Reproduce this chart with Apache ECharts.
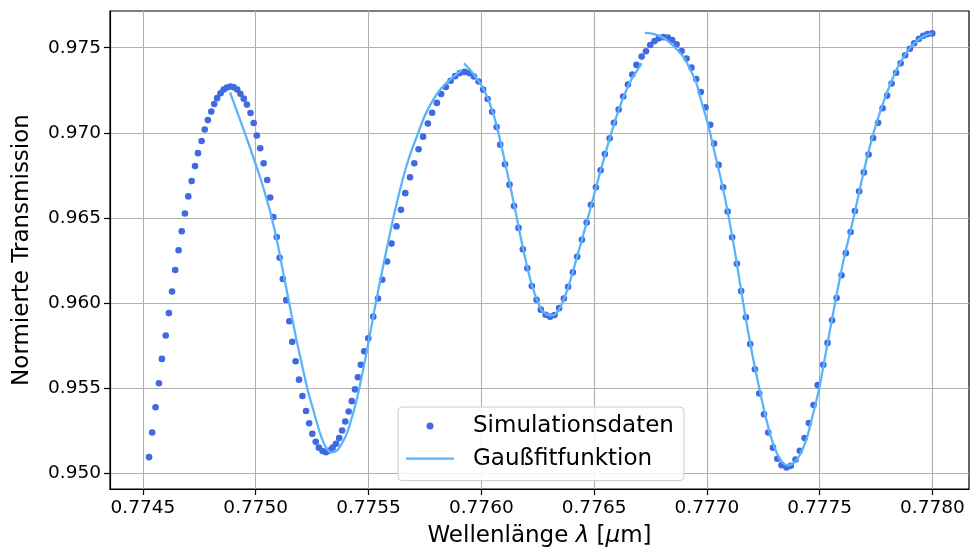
<!DOCTYPE html>
<html><head><meta charset="utf-8">
<script src="https://cdn.jsdelivr.net/npm/echarts@6/dist/echarts.min.js"></script>
<style>html,body{margin:0;padding:0;background:#fff}#c{width:970px;height:553px}</style>
</head><body><div id="c"></div>
<script>
// Simulationsdaten (Wellenlänge in µm, normierte Transmission)
const simX = [
0.774527,0.774541,0.774556,0.774571,0.774584,0.774601,0.774615,0.774629,0.774643,0.774658,
0.774672,0.774686,0.774701,0.774716,0.774731,0.774744,0.774760,0.774774,0.774788,0.774803,
0.774816,0.774829,0.774844,0.774858,0.774872,0.774888,0.774903,0.774918,0.774932,0.774947,
0.774961,0.774977,0.774991,0.775005,0.775020,0.775035,0.775051,0.775064,0.775078,0.775093,
0.775106,0.775120,0.775135,0.775149,0.775162,0.775177,0.775192,0.775207,0.775223,0.775237,
0.775251,0.775266,0.775280,0.775296,0.775311,0.775326,0.775341,0.775356,0.775370,0.775383,
0.775397,0.775412,0.775426,0.775440,0.775453,0.775466,0.775481,0.775499,0.775521,0.775542,
0.775561,0.775582,0.775602,0.775624,0.775644,0.775663,0.775684,0.775703,0.775722,0.775742,
0.775763,0.775782,0.775803,0.775822,0.775843,0.775864,0.775884,0.775905,0.775926,0.775946,
0.775967,0.775988,0.776008,0.776028,0.776048,0.776068,0.776084,0.776105,0.776125,0.776145,
0.776165,0.776184,0.776204,0.776224,0.776245,0.776264,0.776285,0.776305,0.776325,0.776345,
0.776366,0.776385,0.776406,0.776425,0.776446,0.776467,0.776486,0.776508,0.776529,0.776548,
0.776569,0.776588,0.776609,0.776629,0.776650,0.776669,0.776688,0.776711,0.776730,0.776749,
0.776768,0.776787,0.776807,0.776827,0.776846,0.776866,0.776888,0.776910,0.776932,0.776953,
0.776973,0.776994,0.777015,0.777032,0.777052,0.777072,0.777092,0.777112,0.777133,0.777152,
0.777173,0.777192,0.777213,0.777232,0.777253,0.777272,0.777293,0.777312,0.777331,0.777353,
0.777372,0.777393,0.777412,0.777433,0.777452,0.777473,0.777491,0.777516,0.777535,0.777555,
0.777575,0.777597,0.777616,0.777637,0.777656,0.777675,0.777696,0.777717,0.777737,0.777759,
0.777779,0.777799,0.777819,0.777839,0.777859,0.777879,0.777900,0.777919,0.777940,0.777959,
0.777978,0.777999
];
const simY = [
0.95096,0.95241,0.95389,0.95530,0.95673,0.95810,0.95942,0.96069,0.96195,0.96311,
0.96422,0.96527,0.96627,0.96717,0.96805,0.96881,0.96952,0.97020,0.97075,0.97125,
0.97170,0.97204,0.97233,0.97254,0.97266,0.97272,0.97268,0.97255,0.97230,0.97201,
0.97166,0.97117,0.97058,0.96985,0.96910,0.96821,0.96723,0.96621,0.96506,0.96389,
0.96267,0.96142,0.96019,0.95894,0.95773,0.95659,0.95551,0.95455,0.95367,0.95295,
0.95233,0.95186,0.95152,0.95132,0.95125,0.95135,0.95152,0.95175,0.95208,0.95253,
0.95305,0.95364,0.95425,0.95494,0.95565,0.95639,0.95718,0.95794,0.95921,0.96028,
0.96138,0.96245,0.96350,0.96451,0.96548,0.96646,0.96739,0.96822,0.96904,0.96978,
0.97055,0.97118,0.97176,0.97228,0.97269,0.97306,0.97333,0.97351,0.97358,0.97351,
0.97331,0.97302,0.97254,0.97199,0.97124,0.97034,0.96931,0.96816,0.96696,0.96570,
0.96442,0.96317,0.96205,0.96101,0.96020,0.95962,0.95932,0.95921,0.95931,0.95971,
0.96028,0.96096,0.96181,0.96273,0.96372,0.96474,0.96578,0.96681,0.96780,0.96876,
0.96968,0.97059,0.97137,0.97214,0.97284,0.97343,0.97399,0.97448,0.97479,0.97516,
0.97539,0.97555,0.97562,0.97559,0.97545,0.97520,0.97481,0.97436,0.97383,0.97316,
0.97240,0.97150,0.97048,0.96937,0.96812,0.96681,0.96538,0.96387,0.96232,0.96072,
0.95917,0.95760,0.95612,0.95470,0.95348,0.95241,0.95152,0.95087,0.95049,0.95035,
0.95045,0.95082,0.95134,0.95208,0.95297,0.95402,0.95519,0.95639,0.95767,0.95900,
0.96030,0.96164,0.96294,0.96418,0.96541,0.96657,0.96768,0.96873,0.96970,0.97059,
0.97145,0.97219,0.97290,0.97353,0.97409,0.97456,0.97494,0.97526,0.97552,0.97570,
0.97580,0.97584
];

// Gaußfitfunktion, drei Abschnitte
const fit1X = [0.774886,0.774921,0.774957,0.774992,0.775019,0.775045,0.775072,0.775098,0.775125,0.775152,
0.775178,0.775205,0.775231,0.775258,0.775285,0.775311,0.775336,0.775360,0.775378,
0.775403,0.775424,0.775447,0.775469,0.775492,0.775511,0.775532,0.775571,0.775610,0.775644,
0.775679,0.775720,0.775750,0.775787,0.775821,0.775861,0.775887,0.775914];
const fit1Y = [0.97238,0.97111,0.96980,0.96846,0.96741,0.96627,0.96496,0.96344,0.96158,0.95977,
0.95802,0.95639,0.95488,0.95360,0.95237,0.95153,0.95124,0.95135,0.95167,
0.95231,0.95319,0.95429,0.95564,0.95715,0.95849,0.96001,0.96257,0.96500,0.96688,
0.96851,0.96999,0.97102,0.97195,0.97259,0.97312,0.97341,0.97370];

const fit2X = [0.775923,0.775950,0.775976,0.776008,0.776038,0.776068,0.776105,0.776145,0.776184,0.776224,
0.776264,0.776286,0.776309,0.776331,0.776353,0.776384,0.776424,0.776467,0.776508,0.776548,
0.776588,0.776629,0.776669,0.776690,0.776711];
const fit2Y = [0.97409,0.97370,0.97326,0.97262,0.97172,0.97044,0.96828,0.96583,0.96327,0.96106,
0.95966,0.95937,0.95928,0.95939,0.95983,0.96088,0.96269,0.96473,0.96677,0.96869,
0.97050,0.97207,0.97323,0.97364,0.97409];

const fit3X = [0.776725,0.776756,0.776787,0.776821,0.776854,0.776895,0.776925,0.776954,0.776976,0.776999,
0.777018,0.777035,0.777053,0.777072,0.777094,0.777124,0.777161,0.777195,0.777226,0.777257,
0.777284,0.777310,0.777332,0.777359,0.777386,0.777412,0.777439,0.777465,0.777498,0.777528,
0.777559,0.777603,0.777650,0.777696,0.777737,0.777779,0.777819,0.777859,0.777900,0.777940,
0.777971,0.777999];
const fit3Y = [0.97587,0.97583,0.97571,0.97545,0.97507,0.97448,0.97376,0.97289,0.97184,0.97079,
0.96980,0.96881,0.96781,0.96671,0.96525,0.96304,0.96001,0.95744,0.95540,0.95354,
0.95214,0.95121,0.95071,0.95048,0.95062,0.95109,0.95191,0.95319,0.95501,0.95715,
0.95937,0.96234,0.96500,0.96776,0.96991,0.97166,0.97306,0.97417,0.97498,0.97551,
0.97574,0.97584];

// Achsen
const xTicks = [0.7745,0.7750,0.7755,0.7760,0.7765,0.7770,0.7775,0.7780];
const xTickLabels = ['0.7745','0.7750','0.7755','0.7760','0.7765','0.7770','0.7775','0.7780'];
const yTicks = [0.950,0.955,0.960,0.965,0.970,0.975];
const yTickLabels = ['0.950','0.955','0.960','0.965','0.970','0.975'];
const xRange = [0.774354, 0.778162];
const yRange = [0.949091, 0.977156];

const FONT = 'DejaVu Sans';
const DOT = '#4169e1';
const LINE = '#5ab4fb';

function pairs(xs, ys){ return xs.map((x,i)=>[x, ys[i]]); }
function lab(ticks, labels){ return v => { let k=0,b=1e9; ticks.forEach((t,i)=>{const d=Math.abs(t-v); if(d<b){b=d;k=i;}}); return labels[k]; }; }

const chart = echarts.init(document.getElementById('c'), null, {renderer:'canvas'});
const lineSeries = [fit1X, fit2X, fit3X].map((xs, i) => ({
  type:'line', name:'Gaußfitfunktion',
  data: pairs(xs, [fit1Y, fit2Y, fit3Y][i]),
  showSymbol:false, symbol:'none', smooth:0.3,
  itemStyle:{color:LINE},
  lineStyle:{color:LINE, width:2.3},
  z:3, animation:false
}));

chart.setOption({
  animation:false,
  backgroundColor:'#fff',
  grid:{left:110, right:1, top:11, bottom:61, show:true, borderColor:'#000', borderWidth:1.2, backgroundColor:'transparent'},
  xAxis:{
    type:'value', min:xRange[0], max:xRange[1],
    name:'Wellenlänge {it|λ} [{it|μ}m]', nameLocation:'middle', nameGap:36,
    nameTextStyle:{fontFamily:FONT, fontSize:23, color:'#000',
      rich:{it:{fontFamily:FONT, fontSize:23, fontStyle:'italic', color:'#000'}}},
    axisLine:{show:true, onZero:false, lineStyle:{color:'#000', width:1.2}},
    axisTick:{show:true, customValues:xTicks, length:6, lineStyle:{color:'#000', width:1.2}},
    axisLabel:{customValues:xTicks, formatter:lab(xTicks,xTickLabels), fontFamily:FONT, fontSize:18.5, color:'#000', margin:10},
    splitLine:{show:true, lineStyle:{color:'#b0b0b0', width:1.1}}
  },
  yAxis:{
    type:'value', min:yRange[0], max:yRange[1],
    name:'Normierte Transmission', nameLocation:'middle', nameGap:76,
    nameTextStyle:{fontFamily:FONT, fontSize:23, color:'#000'},
    axisLine:{show:true, onZero:false, lineStyle:{color:'#000', width:1.2}},
    axisTick:{show:true, customValues:yTicks, length:6, lineStyle:{color:'#000', width:1.2}},
    axisLabel:{customValues:yTicks, formatter:lab(yTicks,yTickLabels), fontFamily:FONT, fontSize:18.5, color:'#000', margin:9},
    splitLine:{show:true, lineStyle:{color:'#b0b0b0', width:1.1}}
  },
  legend:{
    left:398, top:407, orient:'vertical',
    backgroundColor:'rgba(255,255,255,0.85)', borderColor:'#cccccc', borderWidth:1, borderRadius:4,
    padding:[7,10,10,8], itemGap:8.6, itemWidth:48, itemHeight:7,
    textStyle:{fontFamily:FONT, fontSize:23, color:'#000', lineHeight:24, padding:[0,0,0,14]},
    data:[
      {name:'Simulationsdaten', icon:'circle'},
      {name:'Gaußfitfunktion', icon:'path://M0,0L48,0L48,2.3L0,2.3Z'}
    ]
  },
  series:[
    {type:'scatter', name:'Simulationsdaten', data:pairs(simX, simY), symbolSize:6.6,
     itemStyle:{color:DOT, opacity:1}, z:2, animation:false}
  ].concat(lineSeries)
});
</script></body></html>
